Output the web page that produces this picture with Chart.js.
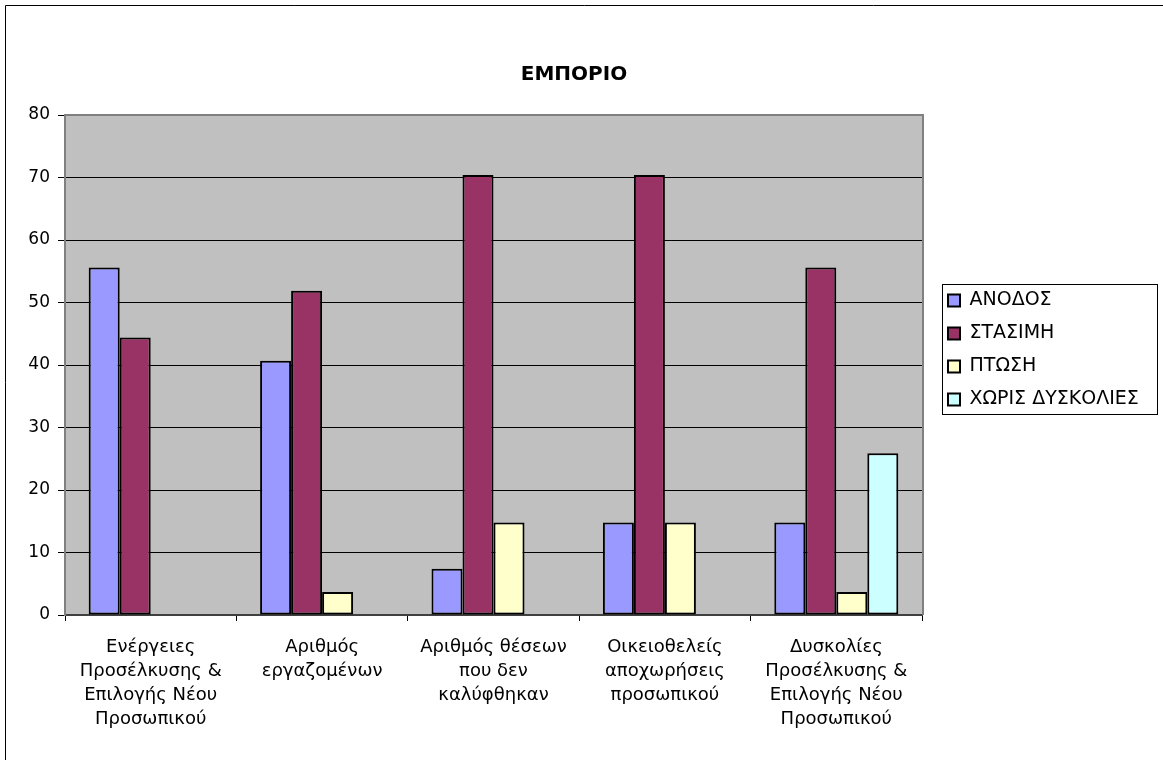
<!DOCTYPE html>
<html>
<head>
<meta charset="utf-8">
<script src="https://cdn.jsdelivr.net/npm/chart.js@4/dist/chart.umd.min.js"></script>
<style>
html,body{margin:0;padding:0;background:#fff;}
canvas{display:block;}
</style>
</head>
<body>
<canvas id="c" width="1163" height="760"></canvas>
<script>
const categories = [
  ["Ενέργειες","Προσέλκυσης &","Επιλογής Νέου","Προσωπικού"],
  ["Αριθμός","εργαζομένων"],
  ["Αριθμός θέσεων","που δεν","καλύφθηκαν"],
  ["Οικειοθελείς","αποχωρήσεις","προσωπικού"],
  ["Δυσκολίες","Προσέλκυσης &","Επιλογής Νέου","Προσωπικού"]
];
const seriesNames = ["ΑΝΟΔΟΣ","ΣΤΑΣΙΜΗ","ΠΤΩΣΗ","ΧΩΡΙΣ ΔΥΣΚΟΛΙΕΣ"];
const anodos   = [55.6, 40.7, 7.4, 14.8, 14.8];
const stasimi  = [44.4, 51.9, 70.4, 70.4, 55.6];
const ptosi    = [null, 3.7, 14.8, 14.8, 3.7];
const xoris    = [null, null, null, null, 25.9];
const yTicks   = [0, 10, 20, 30, 40, 50, 60, 70, 80];
const titleText = "ΕΜΠΟΡΙΟ";

const colors = ["#9999FF", "#993366", "#FFFFCC", "#CCFFFF"];
const values = [anodos, stasimi, ptosi, xoris];
const FONT = "'DejaVu Sans', sans-serif";

const decor = {
  id: 'decor',
  afterInit(chart) {
    const lg = chart.legend;
    if (lg) {
      const orig = lg.fit;
      lg.fit = function() { orig.call(this); this.width = 226; };
    }
  },
  afterLayout(chart) {
    const lg = chart.legend;
    if (lg) {
      lg.left = 934; lg.right = 1163;
      lg.top = 277; lg.bottom = 755;
    }
  },
  beforeDraw(chart) {
    const {ctx, chartArea: a} = chart;
    ctx.save();
    ctx.fillStyle = '#C0C0C0';
    ctx.fillRect(a.left, a.top, a.right - a.left, a.bottom - a.top);
    ctx.restore();
  },
  beforeDatasetsDraw(chart) {
    const {ctx, chartArea: a} = chart;
    ctx.save();
    ctx.strokeStyle = '#808080';
    ctx.lineWidth = 2;
    ctx.beginPath();
    ctx.moveTo(a.left, a.top);
    ctx.lineTo(a.right + 1, a.top);
    ctx.lineTo(a.right + 1, a.bottom);
    ctx.stroke();
    ctx.restore();
  },
  afterDraw(chart) {
    const {ctx} = chart;
    ctx.save();
    ctx.strokeStyle = '#000';
    ctx.lineWidth = 1;
    ctx.beginPath();
    ctx.moveTo(5.5, 760);
    ctx.lineTo(5.5, 5.5);
    ctx.lineTo(1163, 5.5);
    ctx.stroke();
    ctx.strokeRect(942.5, 284.5, 215, 130);
    ctx.restore();
  }
};

new Chart(document.getElementById('c'), {
  type: 'bar',
  data: {
    labels: categories,
    datasets: seriesNames.map((n, i) => ({
      label: n,
      data: values[i],
      backgroundColor: colors[i],
      borderColor: '#000',
      borderWidth: 2,
      borderSkipped: false,
      barPercentage: 1,
      categoryPercentage: 0.7235
    }))
  },
  options: {
    responsive: false,
    animation: false,
    devicePixelRatio: 1,
    layout: { padding: { left: 0, right: 15, top: 0, bottom: 0 } },
    plugins: {
      title: {
        display: true,
        text: titleText,
        color: '#000',
        font: { family: FONT, size: 20, weight: 'bold', lineHeight: 1.2 },
        padding: { top: 63, bottom: 28 }
      },
      legend: {
        display: true,
        position: 'right',
        align: 'start',
        labels: {
          color: '#000',
          font: { family: FONT, size: 19 },
          boxWidth: 12,
          boxHeight: 12,
          padding: 14
        }
      },
      tooltip: { enabled: false }
    },
    scales: {
      x: {
        offset: true,
        grid: { display: true, offset: true, drawOnChartArea: false, drawTicks: true, tickLength: 6, color: '#000' },
        border: { display: true, color: '#404040', width: 2 },
        ticks: {
          color: '#000',
          font: { family: FONT, size: 18, lineHeight: 1.333 },
          padding: 14,
          maxRotation: 0, minRotation: 0, autoSkip: false
        },
        afterFit(s) { s.height = 145; }
      },
      y: {
        min: yTicks[0],
        max: yTicks[yTicks.length - 1],
        afterBuildTicks(s) { s.ticks = yTicks.map(v => ({ value: v })); },
        grid: { color: '#000', lineWidth: 1, drawTicks: true, tickLength: 7 },
        border: { display: true, color: '#808080', width: 2 },
        ticks: {
          color: '#000',
          font: { family: FONT, size: 17 },
          padding: 8
        },
        afterFit(s) { s.width = 65; }
      }
    }
  },
  plugins: [decor]
});
</script>
</body>
</html>
